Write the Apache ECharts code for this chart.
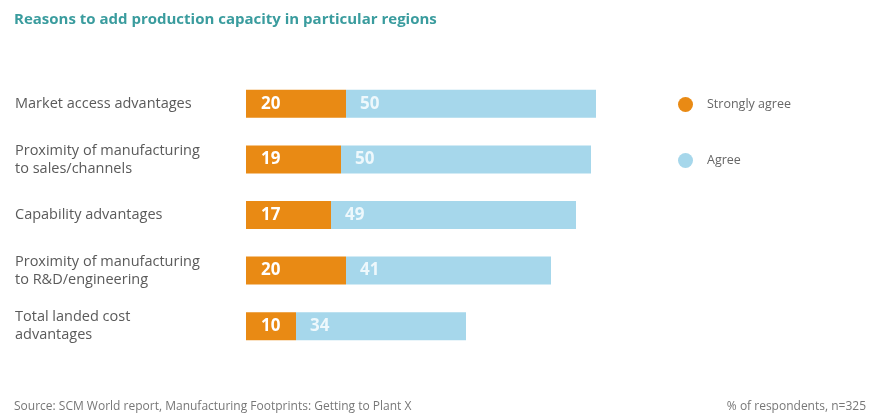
<!DOCTYPE html>
<html lang="en">
<head>
<meta charset="UTF-8">
<title>Reasons to add production capacity</title>
<script src="https://cdn.jsdelivr.net/npm/echarts@6/dist/echarts.min.js"></script>
<style>
  html, body { margin: 0; padding: 0; background: #fff; }
  #bar_chart { width: 869px; height: 418px; }
</style>
</head>
<body>
<div id="bar_chart"></div>
<script type="text/javascript">
// data, top row first
var categories = [
  'Market access advantages',
  'Proximity of manufacturing\nto sales/channels',
  'Capability advantages',
  'Proximity of manufacturing\nto R&D/engineering',
  'Total landed cost\nadvantages'
];
var stronglyAgree = [20, 19, 17, 20, 10];
var agree = [50, 50, 49, 41, 34];
var seriesNames = ['Strongly agree', 'Agree'];

var chart = echarts.init(document.getElementById('bar_chart'));
var font = '"Open Sans", Lato, sans-serif';

var option = {
  backgroundColor: '#fff',
  textStyle: { fontFamily: font },
  title: {
    text: 'Reasons to add production capacity in particular regions',
    left: 14,
    top: 12,
    padding: 0,
    textStyle: { color: '#3a9c9e', fontSize: 15, fontWeight: 'bold', fontFamily: font }
  },
  legend: {
    orient: 'vertical',
    left: 678,
    top: 97,
    padding: 0,
    itemGap: 41,
    itemWidth: 15,
    itemHeight: 15,
    icon: 'circle',
    data: seriesNames,
    textStyle: { color: '#666', fontSize: 12.5, fontFamily: font, padding: [0, 0, 0, 9] }
  },
  grid: { left: 246, right: 123, top: 76, bottom: 64 },
  xAxis: {
    type: 'value',
    min: 0,
    max: 100,
    show: false
  },
  yAxis: {
    type: 'category',
    inverse: true,
    data: categories,
    axisLine: { show: false },
    axisTick: { show: false },
    axisLabel: {
      align: 'left',
      margin: 231,
      color: '#5a5a5a',
      fontSize: 14.5,
      lineHeight: 18,
      fontFamily: font
    }
  },
  graphic: [
    {
      type: 'text', left: 14, top: 401,
      style: { text: 'Source: SCM World report, Manufacturing Footprints: Getting to Plant X', fill: '#777', fontSize: 12, fontFamily: font }
    },
    {
      type: 'text', right: 3, top: 401,
      style: { text: '% of respondents, n=325', fill: '#777', fontSize: 12, fontFamily: font }
    }
  ],
  series: [
    {
      name: seriesNames[0],
      type: 'bar',
      stack: 'total',
      barWidth: 28,
      data: stronglyAgree,
      itemStyle: { color: '#e98a14' },
      label: {
        show: true, position: 'insideLeft', distance: 15,
        color: '#fff', fontSize: 17, fontWeight: 'bold', fontFamily: font
      }
    },
    {
      name: seriesNames[1],
      type: 'bar',
      stack: 'total',
      barWidth: 28,
      data: agree,
      itemStyle: { color: '#a6d7eb' },
      label: {
        show: true, position: 'insideLeft', distance: 14,
        color: '#eef8fc', fontSize: 17, fontWeight: 'bold', fontFamily: font
      }
    }
  ]
};

chart.setOption(option);
</script>
</body>
</html>
